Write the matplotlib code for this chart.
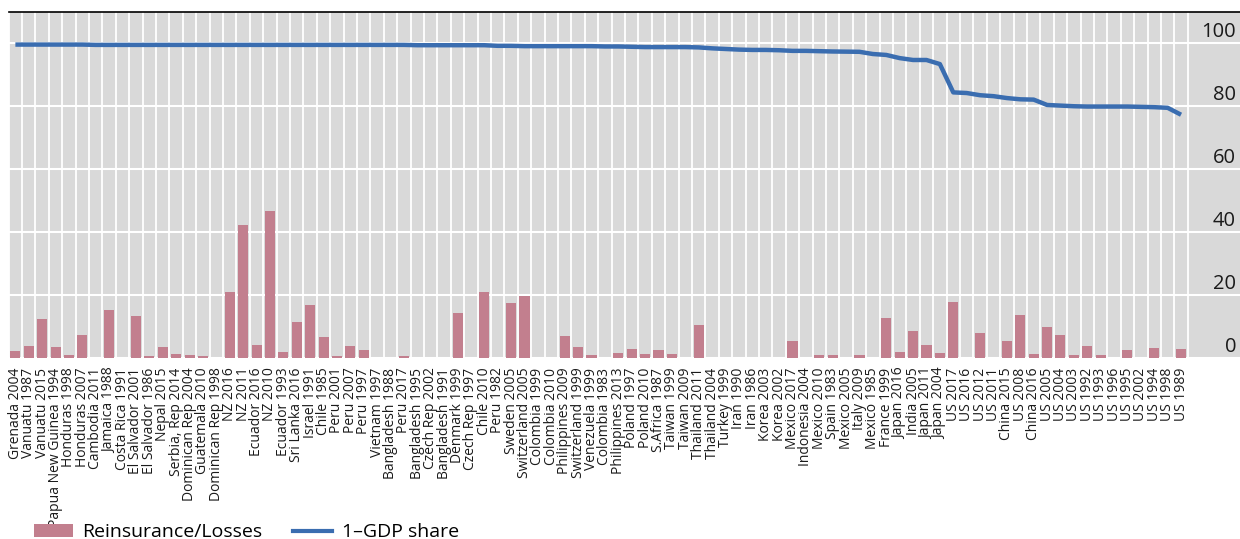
import numpy as np
import matplotlib
matplotlib.use("Agg")
import matplotlib.pyplot as plt
import matplotlib.transforms as mtransforms
from matplotlib.patches import Patch
from matplotlib.lines import Line2D

plt.rcParams['font.family'] = ['Open Sans', 'DejaVu Sans']

# events, ordered by 1-GDP share
events = ['Grenada 2004', 'Vanuatu 1987', 'Vanuatu 2015', 'Papua New Guinea 1994',
          'Honduras 1998', 'Honduras 2007', 'Cambodia 2011', 'Jamaica 1988',
          'Costa Rica 1991', 'El Salvador 2001', 'El Salvador 1986', 'Nepal 2015',
          'Serbia, Rep 2014', 'Dominican Rep 2004', 'Guatemala 2010', 'Dominican Rep 1998',
          'NZ 2016', 'NZ 2011', 'Ecuador 2016', 'NZ 2010', 'Ecuador 1993', 'Sri Lanka 2016',
          'Israel 1991', 'Chile 1985', 'Peru 2001', 'Peru 2007', 'Peru 1997', 'Vietnam 1997',
          'Bangladesh 1988', 'Peru 2017', 'Bangladesh 1995', 'Czech Rep 2002',
          'Bangladesh 1991', 'Denmark 1999', 'Czech Rep 1997', 'Chile 2010', 'Peru 1982',
          'Sweden 2005', 'Switzerland 2005', 'Colombia 1999', 'Colombia 2010',
          'Philippines 2009', 'Switzerland 1999', 'Venezuela 1999', 'Colombia 1983',
          'Philippines 2013', 'Poland 1997', 'Poland 2010', 'S.Africa 1987', 'Taiwan 1999',
          'Taiwan 2009', 'Thailand 2011', 'Thailand 2004', 'Turkey 1999', 'Iran 1990',
          'Iran 1986', 'Korea 2003', 'Korea 2002', 'Mexico 2017', 'Indonesia 2004',
          'Mexico 2010', 'Spain 1983', 'Mexico 2005', 'Italy 2009', 'Mexico 1985',
          'France 1999', 'Japan 2016', 'India 2005', 'Japan 2011', 'Japan 2004', 'US 2017',
          'US 2016', 'US 2012', 'US 2011', 'China 2015', 'US 2008', 'China 2016', 'US 2005',
          'US 2004', 'US 2003', 'US 1992', 'US 1993', 'US 1996', 'US 1995', 'US 2002',
          'US 1994', 'US 1998', 'US 1989']

# reinsurance payouts as % of losses
reinsurance = [2.1, 3.7, 12.3, 3.4, 0.9, 7.2, 0.0, 15.2, 0.0, 13.3,
               0.5, 3.4, 1.2, 0.9, 0.5, 0.0, 21.0, 42.3, 4.0, 46.8,
               1.8, 11.4, 16.8, 6.6, 0.5, 3.7, 2.4, 0.0, 0.0, 0.5,
               0.0, 0.0, 0.0, 14.3, 0.0, 21.0, 0.0, 17.4, 19.7, 0.0,
               0.0, 6.9, 3.4, 0.9, 0.0, 1.5, 2.8, 1.2, 2.4, 1.2,
               0.0, 10.4, 0.0, 0.0, 0.0, 0.0, 0.0, 0.0, 5.3, 0.0,
               0.9, 0.9, 0.0, 0.9, 0.0, 12.6, 1.9, 8.5, 4.1, 1.6,
               17.7, 0.0, 7.9, 0.0, 5.4, 13.6, 1.3, 9.9, 7.4, 0.8,
               3.9, 0.8, 0.0, 2.5, 0.0, 3.2, 0.0, 2.8]

# 1 - GDP share of the hit country
gdp_share = [99.6, 99.6, 99.6, 99.6, 99.6, 99.6, 99.5, 99.5, 99.5, 99.5,
             99.5, 99.5, 99.5, 99.5, 99.5, 99.5, 99.5, 99.5, 99.5, 99.5,
             99.5, 99.5, 99.5, 99.5, 99.5, 99.5, 99.5, 99.5, 99.5, 99.5,
             99.4, 99.4, 99.4, 99.4, 99.4, 99.4, 99.2, 99.2, 99.1, 99.1,
             99.1, 99.1, 99.1, 99.1, 99.0, 99.0, 98.9, 98.8, 98.8, 98.8,
             98.8, 98.7, 98.4, 98.2, 98.0, 97.9, 97.9, 97.8, 97.6, 97.6,
             97.5, 97.4, 97.35, 97.3, 96.6, 96.3, 95.3, 94.7, 94.7, 93.4,
             84.4, 84.2, 83.5, 83.2, 82.6, 82.2, 82.1, 80.4, 80.2, 80.0,
             79.9, 79.9, 79.9, 79.9, 79.8, 79.7, 79.5, 77.3]

yticks = [0, 20, 40, 60, 80, 100]

bar_color = '#c27f8e'
line_color = '#3a6db0'

fig = plt.figure(figsize=(12.4, 5.39), dpi=100)
ax = fig.add_axes([0.007, 0.336, 0.993, 0.642])
ax.set_facecolor('#d9d9d9')

x = np.arange(len(events))
ax.bar(x, reinsurance, width=0.75, color=bar_color, zorder=2)
ax.plot(x, gdp_share, color=line_color, lw=3.2, solid_capstyle='butt', zorder=3)

ax.set_xlim(-0.5, 91.4)
ax.set_ylim(0, 110)

# category separators and horizontal grid
ax.set_xticks(x)
ax.set_xticks(np.arange(-0.5, len(events)), minor=True)
ax.set_xticklabels(events, rotation=90, fontsize=10, color='#1a1a1a')
ax.tick_params(axis='x', which='both', length=0, pad=7)
ax.grid(which='minor', axis='x', color='white', lw=1.3)
ax.set_yticks(yticks)
ax.set_yticklabels([])
ax.tick_params(axis='y', length=0)
ax.grid(which='major', axis='y', color='white', lw=1.5)
ax.set_axisbelow(True)

for s in ['left', 'right', 'bottom']:
    ax.spines[s].set_visible(False)
ax.spines['top'].set_color('black')
ax.spines['top'].set_linewidth(1.2)

# y labels inside the plot, right side
trans = mtransforms.blended_transform_factory(ax.transAxes, ax.transData)
trans = mtransforms.offset_copy(trans, fig=fig, x=-4, y=6, units='dots')
for v in yticks:
    ax.text(1.0, v, str(v), transform=trans, ha='right', va='baseline',
            fontsize=14.5, color='#1a1a1a')

handles = [Patch(facecolor=bar_color, edgecolor='none'),
           Line2D([0], [0], color=line_color, lw=3)]
fig.legend(handles, ['Reinsurance/Losses', '1\u2013GDP share'], ncol=2,
           loc='lower left', bbox_to_anchor=(0.013, -0.037), frameon=False,
           fontsize=14, handlelength=2.0, handletextpad=0.5, columnspacing=1.6)

fig.savefig('out.png', dpi=100)
